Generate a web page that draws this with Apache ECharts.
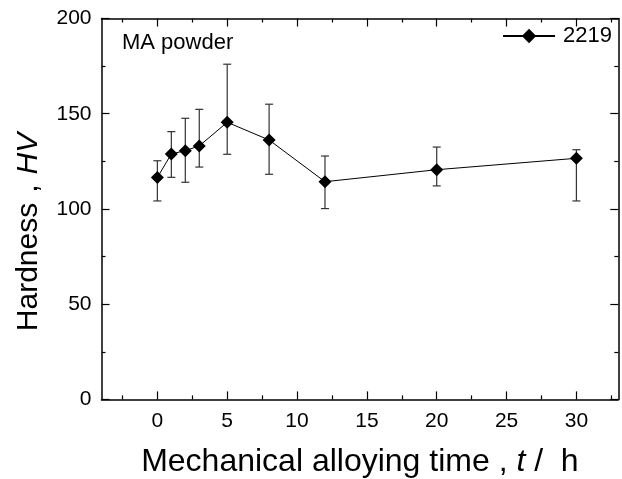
<!DOCTYPE html>
<html>
<head>
<meta charset="utf-8">
<script src="https://cdn.jsdelivr.net/npm/echarts@6/dist/echarts.min.js"></script>
<style>
  html, body { margin: 0; padding: 0; background: #fff; }
  #main { width: 622px; height: 479px; }
</style>
</head>
<body>
<div id="main"></div>
<script>
// alloying time (h)
var times = [0, 1, 2, 3, 5, 8, 12, 20, 30];
// hardness HV and error bar ends
var hardness = [116.5, 128.9, 130.6, 133.1, 145.5, 136.2, 114.3, 120.6, 126.6];
var errHigh = [125.3, 140.6, 147.6, 152.3, 176.0, 155.0, 127.8, 132.5, 131.1];
var errLow = [104.2, 116.6, 114.0, 122.0, 128.7, 118.2, 100.2, 112.1, 104.2];
var xMajor = [0, 5, 10, 15, 20, 25, 30];
var xMinor = [-2.5, 2.5, 7.5, 12.5, 17.5, 22.5, 27.5, 32.5];
var seriesName = "2219";

var FONT = "Liberation Sans";
var chartDom = document.getElementById("main");
var myChart = echarts.init(chartDom);

var points = times.map(function (t, i) { return [t, hardness[i]]; });
var bars = times.map(function (t, i) { return [t, errLow[i], errHigh[i]]; });

function xAxisDef(pos, ticks, len, showLine, showLabel) {
    return {
        type: "value",
        position: pos,
        min: -4,
        max: 33,
        splitLine: { show: false },
        axisLine: { show: showLine, onZero: false, lineStyle: { color: "#000", width: 1.5 } },
        axisTick: { show: true, inside: true, length: len, customValues: ticks, lineStyle: { color: "#000", width: 1.2 } },
        axisLabel: { show: showLabel, customValues: ticks, color: "#000", fontSize: 21, fontFamily: FONT, margin: 11 }
    };
}

var bottomMain = xAxisDef("bottom", xMajor, 8, true, true);
bottomMain.name = "{n|Mechanical alloying time , }{i|t}{n| /  h}";
bottomMain.nameLocation = "middle";
bottomMain.nameGap = 47;
bottomMain.nameTextStyle = {
    rich: {
        n: { fontSize: 32, fontFamily: FONT, color: "#000" },
        i: { fontSize: 32, fontFamily: FONT, fontStyle: "italic", color: "#000" }
    }
};

function yAxisDef(pos, showLabel) {
    return {
        type: "value",
        position: pos,
        min: 0,
        max: 200,
        interval: 50,
        splitLine: { show: false },
        axisLine: { show: true, onZero: false, lineStyle: { color: "#000", width: 1.5 } },
        axisTick: { show: true, inside: true, length: 8, lineStyle: { color: "#000", width: 1.2 } },
        minorTick: { show: true, splitNumber: 2, length: 4, lineStyle: { color: "#000", width: 1.2 } },
        axisLabel: { show: showLabel, color: "#000", fontSize: 21, fontFamily: FONT, margin: 10 }
    };
}

var leftAxis = yAxisDef("left", true);
leftAxis.name = "{n|Hardness}{k|,}{i|HV}";
leftAxis.nameLocation = "middle";
leftAxis.nameGap = 58;
leftAxis.nameTextStyle = {
    padding: [0, 46, 0, 0],
    rich: {
        n: { fontSize: 30, fontFamily: FONT, color: "#000" },
        k: { fontSize: 30, fontFamily: FONT, color: "#000", padding: [0, 10, 0, 10] },
        i: { fontSize: 30, fontFamily: FONT, fontStyle: "italic", color: "#000" }
    }
};

var option = {
    animation: false,
    backgroundColor: "#fff",
    grid: { left: 101.5, right: 3.7, top: 18.5, bottom: 79.6, outerBoundsMode: "none" },
    graphic: [{
        type: "text",
        left: 122,
        top: 32,
        style: { text: "MA powder", fontSize: 22, fontFamily: FONT, fill: "#000" }
    }],
    legend: {
        right: 5,
        top: 20,
        itemWidth: 52,
        itemHeight: 18,
        itemGap: 6,
        textStyle: { fontSize: 22, fontFamily: FONT, color: "#000", padding: [0, 0, 0, 3] },
        data: [seriesName]
    },
    xAxis: [
        bottomMain,
        xAxisDef("bottom", xMinor, 4, false, false),
        xAxisDef("top", xMajor, 8, true, false),
        xAxisDef("top", xMinor, 4, false, false)
    ],
    yAxis: [leftAxis, yAxisDef("right", false)],
    series: [
        {
            type: "custom",
            name: "err",
            xAxisIndex: 0,
            yAxisIndex: 0,
            renderItem: function (params, api) {
                var lo = api.coord([api.value(0), api.value(1)]);
                var hi = api.coord([api.value(0), api.value(2)]);
                var w = 4;
                var st = { stroke: "#333", lineWidth: 1.2 };
                return {
                    type: "group",
                    children: [
                        { type: "line", shape: { x1: lo[0], y1: lo[1], x2: hi[0], y2: hi[1] }, style: st },
                        { type: "line", shape: { x1: lo[0] - w, y1: lo[1], x2: lo[0] + w, y2: lo[1] }, style: st },
                        { type: "line", shape: { x1: hi[0] - w, y1: hi[1], x2: hi[0] + w, y2: hi[1] }, style: st }
                    ]
                };
            },
            encode: { x: 0, y: [1, 2] },
            data: bars,
            z: 1
        },
        {
            type: "line",
            name: seriesName,
            xAxisIndex: 0,
            yAxisIndex: 0,
            data: points,
            symbol: "diamond",
            symbolSize: 13,
            lineStyle: { color: "#000", width: 1 },
            itemStyle: { color: "#000" },
            z: 2
        }
    ]
};

option && myChart.setOption(option);
</script>
</body>
</html>
